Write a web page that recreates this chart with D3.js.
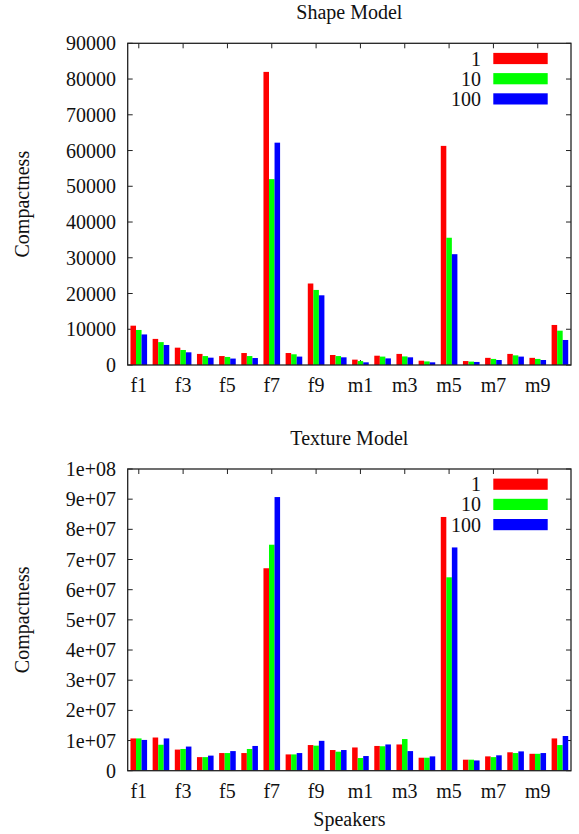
<!DOCTYPE html>
<html>
<head>
<meta charset="utf-8">
<script src="https://cdn.jsdelivr.net/npm/d3@7"></script>
<style>
  body { margin: 0; background: #fff; }
  svg text { font-family: 'Liberation Serif', 'DejaVu Serif', serif; fill: #111; }
</style>
</head>
<body>
<div id="chart"></div>
<script>
// speakers on the x axis, only odd ones get a label
const speakers = ['f1','f2','f3','f4','f5','f6','f7','f8','f9','f10',
                  'm1','m2','m3','m4','m5','m6','m7','m8','m9','m10'];
const xLabels = ['f1','f3','f5','f7','f9','m1','m3','m5','m7','m9'];
const seriesNames = ['1', '10', '100'];
const seriesColors = ['#ff0000', '#00ff00', '#0000ff'];

// shape model compactness
const shape1   = [11000, 7300, 4850, 3100, 2500, 3350, 82000, 3350, 22800, 2800,
                  1500, 2600, 3100, 1200, 61300, 1100, 2000, 3100, 2000, 11200];
const shape10  = [9800, 6400, 4200, 2500, 2250, 2500, 52000, 3000, 21000, 2500,
                  1100, 2350, 2400, 1000, 35600, 950, 1700, 2700, 1700, 9600];
const shape100 = [8550, 5600, 3550, 2050, 1800, 1950, 62200, 2350, 19500, 2150,
                  750, 1850, 2150, 750, 31000, 850, 1400, 2350, 1400, 7000];
const shapeTicks = ['0','10000','20000','30000','40000','50000','60000','70000','80000','90000'];

// texture model compactness
const texture1   = [1.07e7, 1.10e7, 0.70e7, 0.45e7, 0.585e7, 0.585e7, 6.71e7, 0.54e7, 0.85e7, 0.685e7,
                    0.77e7, 0.82e7, 0.87e7, 0.43e7, 8.41e7, 0.365e7, 0.475e7, 0.61e7, 0.56e7, 1.07e7];
const texture10  = [1.07e7, 0.86e7, 0.72e7, 0.45e7, 0.585e7, 0.72e7, 7.49e7, 0.54e7, 0.83e7, 0.63e7,
                    0.42e7, 0.81e7, 1.05e7, 0.43e7, 6.41e7, 0.365e7, 0.45e7, 0.585e7, 0.56e7, 0.85e7];
const texture100 = [1.02e7, 1.07e7, 0.80e7, 0.50e7, 0.65e7, 0.82e7, 9.07e7, 0.585e7, 0.99e7, 0.685e7,
                    0.486e7, 0.87e7, 0.65e7, 0.475e7, 7.40e7, 0.34e7, 0.51e7, 0.64e7, 0.585e7, 1.15e7];
const textureTicks = ['0','1e+07','2e+07','3e+07','4e+07','5e+07','6e+07','7e+07','8e+07','9e+07','1e+08'];

const W = 579, H = 834;
const FONT = "'Liberation Serif', 'DejaVu Serif', serif";
const svg = d3.select('#chart').append('svg')
  .attr('width', W)
  .attr('height', H)
  .attr('font-family', FONT);

function drawPanel(cfg) {
  const left = 127.7, right = 571;
  const top = cfg.top, bottom = cfg.bottom;
  const g = svg.append('g');

  const x = d3.scaleBand().domain(speakers).range([left, right]).padding(0);
  const barW = x.bandwidth() / 4; // gnuplot histogram, gap 1
  const y = d3.scaleLinear().domain([0, cfg.max]).range([bottom, top]);
  const yVals = d3.range(cfg.ticks.length).map(i => i * cfg.step);
  const tickLen = 5;
  const cx = d => x(d) + x.bandwidth() / 2;

  // ticks: left/right inward, bottom/top inward
  g.selectAll('.ytl').data(yVals).enter().append('line')
    .attr('x1', left).attr('x2', left + tickLen)
    .attr('y1', d => y(d)).attr('y2', d => y(d))
    .attr('stroke', '#222').attr('stroke-width', 1);
  g.selectAll('.ytr').data(yVals).enter().append('line')
    .attr('x1', right).attr('x2', right - tickLen)
    .attr('y1', d => y(d)).attr('y2', d => y(d))
    .attr('stroke', '#222').attr('stroke-width', 1);
  g.selectAll('.xtb').data(xLabels).enter().append('line')
    .attr('x1', cx).attr('x2', cx)
    .attr('y1', bottom).attr('y2', bottom - tickLen)
    .attr('stroke', '#222').attr('stroke-width', 1);
  g.selectAll('.xtt').data(xLabels).enter().append('line')
    .attr('x1', cx).attr('x2', cx)
    .attr('y1', top).attr('y2', top + tickLen)
    .attr('stroke', '#222').attr('stroke-width', 1);

  // y tick labels
  g.selectAll('.ylab').data(yVals).enter().append('text')
    .attr('x', 116)
    .attr('y', d => y(d))
    .attr('dy', '0.35em')
    .attr('text-anchor', 'end')
    .attr('font-family', FONT)
    .attr('font-size', 20)
    .text((d, i) => cfg.ticks[i]);

  // x tick labels
  g.selectAll('.xlab').data(xLabels).enter().append('text')
    .attr('x', cx)
    .attr('y', bottom + 27)
    .attr('text-anchor', 'middle')
    .attr('font-family', FONT)
    .attr('font-size', 20)
    .text(d => d);

  // bars
  cfg.series.forEach((vals, s) => {
    g.selectAll('.bar' + s).data(vals).enter().append('rect')
      .attr('x', (d, i) => cx(speakers[i]) - 1.5 * barW + s * barW)
      .attr('y', d => y(d))
      .attr('width', barW)
      .attr('height', d => bottom - y(d))
      .attr('fill', seriesColors[s]);
  });

  // legend
  seriesNames.forEach((name, s) => {
    const ly = top + 15.2 + s * 20.2;
    g.append('rect')
      .attr('x', 493.3).attr('y', ly - 5.6)
      .attr('width', 54.4).attr('height', 11.2)
      .attr('fill', seriesColors[s]);
    g.append('text')
      .attr('x', 481).attr('y', ly)
      .attr('dy', '0.35em')
      .attr('text-anchor', 'end')
      .attr('font-family', FONT)
      .attr('font-size', 20)
      .text(name);
  });

  // frame
  g.append('rect')
    .attr('x', left).attr('y', top)
    .attr('width', right - left).attr('height', bottom - top)
    .attr('fill', 'none').attr('stroke', '#222').attr('stroke-width', 1.3);

  // title and y label
  g.append('text')
    .attr('x', (left + right) / 2).attr('y', top - 24.5)
    .attr('text-anchor', 'middle')
    .attr('font-family', FONT)
    .attr('font-size', 20)
    .text(cfg.title);
  g.append('text')
    .attr('transform', `translate(28.5,${(top + bottom) / 2}) rotate(-90)`)
    .attr('text-anchor', 'middle')
    .attr('font-family', FONT)
    .attr('font-size', 20)
    .text('Compactness');
}

drawPanel({
  title: 'Shape Model', top: 43.3, bottom: 365,
  max: 90000, step: 10000, ticks: shapeTicks,
  series: [shape1, shape10, shape100]
});
drawPanel({
  title: 'Texture Model', top: 469, bottom: 770.7,
  max: 1e8, step: 1e7, ticks: textureTicks,
  series: [texture1, texture10, texture100]
});

svg.append('text')
  .attr('x', 349.4).attr('y', 826)
  .attr('text-anchor', 'middle')
  .attr('font-family', FONT)
  .attr('font-size', 20)
  .text('Speakers');
</script>
</body>
</html>
